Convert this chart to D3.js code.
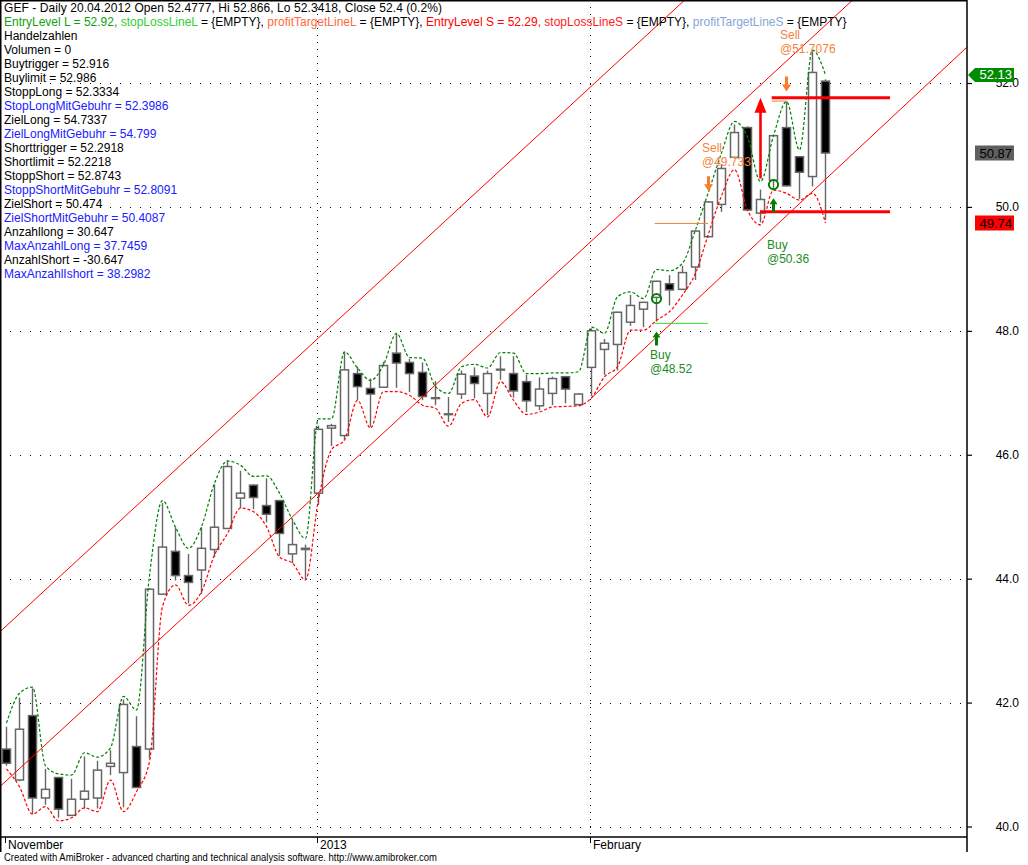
<!DOCTYPE html>
<html>
<head>
<meta charset="utf-8">
<title>GEF - Daily</title>
<script src="https://cdn.jsdelivr.net/npm/d3@7"></script>
<style>
    body { margin: 0; background: #fff; }
    svg { display: block; font-family: "Liberation Sans", Arial, sans-serif; }
</style>
</head>
<body>
<div id="chart"></div>
<script>
// Daily bars (first bar in late November, last bar end of February)
const opens  = [41.25, 40.75, 41.79, 40.46, 40.79, 40.18, 40.44, 40.46, 40.97, 40.87,
                41.29, 41.25, 43.75, 44.44, 44.05, 44.14, 44.47, 44.81, 45.30, 45.51,
                45.18, 45.26, 44.40, 44.47, 45.38, 46.43, 46.31, 47.31, 47.07, 47.09,
                47.64, 47.49, 47.33, 46.92, 46.66, 46.98, 47.27, 46.99, 47.37, 47.31,
                47.18, 46.79, 46.99, 47.26, 46.81, 47.41, 47.70, 47.78, 48.14, 48.35,
                48.54, 48.76, 48.67, 49.03, 49.52, 50.04, 50.80, 51.28, 49.90, 50.43,
                51.28, 50.81, 50.49, 52.03];
const highs  = [41.61, 42.08, 42.23, 40.93, 40.80, 40.77, 41.13, 41.06, 41.23, 42.05,
                41.78, 43.85, 45.22, 44.83, 44.40, 44.83, 45.52, 45.90, 45.74, 45.52,
                45.62, 45.27, 44.94, 44.55, 46.47, 46.50, 47.66, 47.42, 47.23, 47.50,
                47.96, 47.55, 47.49, 47.19, 46.93, 47.36, 47.41, 47.36, 47.59, 47.59,
                47.29, 47.25, 47.26, 47.27, 46.99, 48.04, 47.87, 48.31, 48.58, 48.47,
                48.81, 48.90, 49.05, 49.62, 50.09, 50.69, 51.33, 51.30, 50.28, 51.16,
                51.70, 50.82, 52.53, 52.06];
const lows   = [40.98, 40.73, 40.20, 40.35, 40.14, 40.17, 40.29, 40.29, 40.83, 40.31,
                40.62, 41.10, 43.74, 43.97, 43.60, 43.75, 44.35, 44.80, 45.14, 45.12,
                44.91, 44.37, 44.25, 43.98, 45.19, 46.14, 46.25, 46.88, 46.45, 47.08,
                47.08, 47.01, 46.88, 46.80, 46.53, 46.90, 46.91, 46.64, 47.21, 46.92,
                46.69, 46.72, 46.80, 46.83, 46.80, 46.95, 47.29, 47.36, 48.08, 48.06,
                48.15, 48.41, 48.66, 48.82, 49.51, 49.92, 50.78, 49.93, 49.75, 50.30,
                50.33, 50.13, 50.33, 49.79];
const closes = [41.02, 41.57, 40.46, 40.60, 40.28, 40.44, 40.57, 40.91, 41.02, 41.97,
                40.63, 43.83, 44.51, 44.05, 43.94, 44.49, 44.83, 45.81, 45.38, 45.31,
                45.04, 44.73, 44.55, 44.49, 46.41, 46.47, 47.37, 47.10, 46.98, 47.44,
                47.48, 47.31, 46.94, 46.91, 46.65, 47.30, 47.15, 47.31, 47.38, 47.03,
                46.87, 47.06, 47.23, 47.06, 46.98, 48.00, 47.80, 48.30, 48.41, 48.46,
                48.80, 48.66, 48.94, 49.61, 50.08, 50.62, 51.20, 49.95, 50.12, 51.15,
                50.34, 50.56, 52.17, 50.87];

// Upper (green dashed) and lower (red dashed) bands
const upperBand = [41.67, 42.15, 42.25, 40.98, 40.85, 40.83, 41.19, 41.12, 41.27, 42.10,
                   41.88, 44.05, 45.26, 44.83, 44.49, 44.84, 45.54, 45.90, 45.83, 45.65,
                   45.66, 45.38, 44.95, 44.65, 46.58, 46.58, 47.66, 47.40, 47.20, 47.45,
                   47.96, 47.57, 47.56, 47.10, 46.99, 47.42, 47.46, 47.40, 47.65, 47.64,
                   47.31, 47.31, 47.32, 47.32, 47.34, 48.06, 47.96, 48.55, 48.63, 48.52,
                   48.99, 48.97, 49.09, 49.63, 50.24, 50.87, 51.38, 51.13, 50.41, 51.15,
                   51.70, 50.92, 52.53, 52.13];
const lowerBand = [40.93, 40.64, 40.20, 40.32, 40.09, 40.14, 40.30, 40.24, 40.75, 40.24,
                   40.56, 41.05, 43.55, 43.90, 43.57, 43.79, 44.38, 44.73, 45.14, 45.08,
                   44.84, 44.35, 44.25, 43.98, 45.28, 46.08, 46.24, 46.88, 46.43, 47.02,
                   47.02, 46.96, 46.80, 46.75, 46.46, 46.83, 46.89, 46.61, 47.18, 46.88,
                   46.65, 46.69, 46.77, 46.78, 46.79, 46.92, 47.26, 47.42, 48.01, 48.01,
                   48.17, 48.31, 48.58, 48.93, 49.57, 50.18, 50.60, 49.95, 49.71, 50.27,
                   50.22, 50.11, 50.22, 49.74];

// Trend channel lines (bar index / price at both ends)
const trendStartIdx   = [-1, -1, 45];
const trendStartPrice = [43.04, 40.54, 46.91];
const trendEndIdx     = [75, 75, 75];
const trendEndPrice   = [57.75, 55.25, 52.79];

// Horizontal level segments
const levelStartIdx = [49.9, 49.9, 58.9, 58.9, 58];
const levelEndIdx   = [54, 54, 60.1, 68, 68];
const levelPrice    = [48.12, 49.733, 51.7076, 51.76, 49.92];
const levelColor    = ['#33dd33', '#f5823c', '#f5823c', '#ff0000', '#ff0000'];
const levelWidth    = [1, 1, 1, 3, 3];

// Trade signals
const signalBars       = [50, 54, 59, 60];
const signalTypes      = ['Buy', 'Sell', 'Buy', 'Sell'];
const signalPrices     = ['48.52', '49.733', '50.36', '51.7076'];
const signalLabelPrice = [47.54, 50.89, 49.32, 52.71];
const fillBars   = [50, 59];
const fillPrices = [48.52, 50.36];
const entryArrowBar = 58;
const entryArrowFrom = 50.46;
const entryArrowTo = 51.76;

// Axis ticks
const priceTicks = [40, 42, 44, 46, 48, 50, 52];
const monthTickIdx = [0, 24, 45];
const monthTickLabels = ['November', '2013', 'February'];

// Title / interpretation text
const titleLine = 'GEF - Daily 20.04.2012 Open 52.4777, Hi 52.866, Lo 52.3418, Close 52.4 (0.2%)';
const legendTexts  = ['EntryLevel L = 52.92, ', 'stopLossLineL', ' = {EMPTY}, ', 'profitTargetLineL', ' = {EMPTY}, ',
                      'EntryLevel S = 52.29, ', 'stopLossLineS', ' = {EMPTY}, ', 'profitTargetLineS', ' = {EMPTY}'];
const legendColors = ['#10a010', '#30d030', '#000', '#ff6a3d', '#000',
                      '#ff0000', '#ff1a1a', '#000', '#88a4d8', '#000'];
const infoTexts = ['Handelzahlen', 'Volumen = 0', 'Buytrigger = 52.916', 'Buylimit = 52.986',
                   'StoppLong = 52.3334', 'StopLongMitGebuhr = 52.3986', 'ZielLong = 54.7337',
                   'ZielLongMitGebuhr = 54.799', 'Shorttrigger = 52.2918', 'Shortlimit = 52.2218',
                   'StoppShort = 52.8743', 'StoppShortMitGebuhr = 52.8091', 'ZielShort = 50.474',
                   'ZielShortMitGebuhr = 50.4087', 'Anzahllong = 30.647', 'MaxAnzahlLong = 37.7459',
                   'AnzahlShort = -30.647', 'MaxAnzahlIshort = 38.2982'];
const infoBlue = [false, false, false, false, false, true, false, true, false, false,
                  false, true, false, true, false, true, false, true];
const footerText = 'Created with AmiBroker - advanced charting and technical analysis software. http://www.amibroker.com';

class CandleChart {
    constructor(_config) {
        this.config = {
            parentElement: _config.parentElement,
            containerWidth: 1028,
            containerHeight: 865,
            plotRight: 967,
            plotBottom: 837
        };
        this.initVis();
    }

    initVis() {
        let vis = this;

        vis.svg = vis.config.parentElement.append('svg')
            .attr('width', vis.config.containerWidth)
            .attr('height', vis.config.containerHeight);

        vis.svg.append('rect')
            .attr('width', vis.config.containerWidth)
            .attr('height', vis.config.containerHeight)
            .attr('fill', '#fff');

        // Bar index -> x, price -> y
        vis.xScale = d3.scaleLinear().domain([0, 63]).range([6, 825]);
        vis.yScale = d3.scaleLinear().domain([40, 52]).range([826.5, 83]);

        vis.svg.append('clipPath').attr('id', 'plot-clip')
            .append('rect')
            .attr('x', 0).attr('y', 0)
            .attr('width', vis.config.plotRight)
            .attr('height', vis.config.plotBottom);

        vis.plot = vis.svg.append('g').attr('clip-path', 'url(#plot-clip)');

        vis.bars = opens.map((o, i) => ({ i: i, o: o, h: highs[i], l: lows[i], c: closes[i] }));

        vis.renderVis();
    }

    arrowPath(x, y, dir, headW, headH, shaftW, len) {
        // dir = 1 points up (tip at y, shaft below), dir = -1 points down
        const s = dir;
        return `M${x},${y} L${x + headW / 2},${y + s * headH} L${x + shaftW / 2},${y + s * headH}
                L${x + shaftW / 2},${y + s * len} L${x - shaftW / 2},${y + s * len}
                L${x - shaftW / 2},${y + s * headH} L${x - headW / 2},${y + s * headH} Z`;
    }

    renderVis() {
        let vis = this;
        const x = vis.xScale, y = vis.yScale;
        const right = vis.config.plotRight, bottom = vis.config.plotBottom;

        // Dotted grid
        vis.plot.selectAll('.hgrid')
            .data(priceTicks)
            .join('line')
            .attr('class', 'hgrid')
            .attr('x1', 0).attr('x2', right)
            .attr('y1', d => Math.round(y(d)) + 0.5)
            .attr('y2', d => Math.round(y(d)) + 0.5)
            .attr('stroke', '#000')
            .attr('stroke-dasharray', '1,9');

        vis.plot.selectAll('.vgrid')
            .data(monthTickIdx.slice(1))
            .join('line')
            .attr('class', 'vgrid')
            .attr('x1', d => Math.round(x(d)) - 0.5)
            .attr('x2', d => Math.round(x(d)) - 0.5)
            .attr('y1', 0).attr('y2', bottom)
            .attr('stroke', '#000')
            .attr('stroke-dasharray', '1,6');

        // Candles
        vis.plot.selectAll('.wick')
            .data(vis.bars)
            .join('line')
            .attr('class', 'wick')
            .attr('x1', d => x(d.i) + 0.5)
            .attr('x2', d => x(d.i) + 0.5)
            .attr('y1', d => y(d.h))
            .attr('y2', d => y(d.l))
            .attr('stroke', '#666')
            .attr('stroke-width', 1.4);

        vis.plot.selectAll('.body')
            .data(vis.bars)
            .join('rect')
            .attr('class', 'body')
            .attr('x', d => x(d.i) - 3.5)
            .attr('width', 8)
            .attr('y', d => y(Math.max(d.o, d.c)))
            .attr('height', d => Math.max(0.8, Math.abs(y(d.o) - y(d.c))))
            .attr('fill', d => d.c < d.o ? '#000' : '#fff')
            .attr('stroke', '#666')
            .attr('stroke-width', 1.5);

        // Bands
        const bandLine = d3.line()
            .x((d, i) => x(i) + 0.5)
            .y(d => y(d))
            .curve(d3.curveMonotoneX);

        vis.plot.append('path')
            .datum(upperBand)
            .attr('d', bandLine)
            .attr('fill', 'none')
            .attr('stroke', '#008000')
            .attr('stroke-width', 1.2)
            .attr('stroke-dasharray', '3,2');

        vis.plot.append('path')
            .datum(lowerBand)
            .attr('d', bandLine)
            .attr('fill', 'none')
            .attr('stroke', '#ff0000')
            .attr('stroke-width', 1.2)
            .attr('stroke-dasharray', '3,2');

        // Trend channel
        vis.plot.selectAll('.trend')
            .data(trendStartIdx)
            .join('line')
            .attr('class', 'trend')
            .attr('x1', (d, i) => x(d))
            .attr('y1', (d, i) => y(trendStartPrice[i]))
            .attr('x2', (d, i) => x(trendEndIdx[i]))
            .attr('y2', (d, i) => y(trendEndPrice[i]))
            .attr('stroke', '#ff0000')
            .attr('stroke-width', 1);

        // Levels
        vis.plot.selectAll('.level')
            .data(levelPrice)
            .join('line')
            .attr('class', 'level')
            .attr('x1', (d, i) => x(levelStartIdx[i]))
            .attr('x2', (d, i) => x(levelEndIdx[i]))
            .attr('y1', d => y(d))
            .attr('y2', d => y(d))
            .attr('stroke', (d, i) => levelColor[i])
            .attr('stroke-width', (d, i) => levelWidth[i]);

        // Big red entry arrow
        vis.plot.append('path')
            .attr('d', vis.arrowPath(x(entryArrowBar) + 0.5, y(entryArrowTo), 1, 12, 15, 2.6,
                y(entryArrowFrom) - y(entryArrowTo)))
            .attr('fill', '#ff0000');

        // Buy / sell arrows
        vis.plot.selectAll('.sig-arrow')
            .data(signalBars)
            .join('path')
            .attr('class', 'sig-arrow')
            .attr('d', (d, i) => signalTypes[i] === 'Buy'
                ? vis.arrowPath(x(d) + 0.5, y(lows[d]) + 10, 1, 8, 6, 3, 14)
                : vis.arrowPath(x(d) + 0.5, y(highs[d]) - 10, -1, 9, 7, 3, 15))
            .attr('fill', (d, i) => signalTypes[i] === 'Buy' ? '#008000' : '#ff7a28');

        // Fill circles
        vis.plot.selectAll('.fill-circle')
            .data(fillBars)
            .join('circle')
            .attr('class', 'fill-circle')
            .attr('cx', d => x(d) + 0.5)
            .attr('cy', (d, i) => y(fillPrices[i]))
            .attr('r', 4.6)
            .attr('fill', 'none')
            .attr('stroke', '#008000')
            .attr('stroke-width', 2);

        // Signal labels
        const labels = vis.plot.selectAll('.sig-label')
            .data(signalBars)
            .join('text')
            .attr('class', 'sig-label')
            .attr('x', d => x(d) - 6)
            .attr('y', (d, i) => y(signalLabelPrice[i]))
            .attr('font-size', '12px')
            .attr('fill', (d, i) => signalTypes[i] === 'Buy' ? '#1a8c1a' : '#f5823c');
        labels.append('tspan').text((d, i) => signalTypes[i]);
        labels.append('tspan')
            .attr('x', d => x(d) - 6)
            .attr('dy', 14)
            .text((d, i) => '@' + signalPrices[i]);

        // Frame
        vis.svg.append('path')
            .attr('d', `M0.75,${bottom + 15} V0.75 H${right} V${bottom + 15}`)
            .attr('fill', 'none')
            .attr('stroke', '#000')
            .attr('stroke-width', 1.5);
        vis.svg.append('line')
            .attr('x1', 0).attr('x2', right)
            .attr('y1', bottom).attr('y2', bottom)
            .attr('stroke', '#000')
            .attr('stroke-width', 1.5);

        // Right price axis
        const yAxis = d3.axisRight(y)
            .tickValues(priceTicks)
            .tickFormat(d3.format('.1f'))
            .tickSize(5);

        const axisG = vis.svg.append('g')
            .attr('transform', `translate(${right},0)`)
            .call(yAxis);
        axisG.select('.domain').remove();
        axisG.attr('font-family', '"Liberation Sans", Arial, sans-serif').attr('font-size', 12);
        axisG.selectAll('.tick line').attr('stroke', '#000').attr('stroke-width', 1.2);
        axisG.selectAll('.tick text')
            .attr('x', 52)
            .attr('text-anchor', 'end')
            .attr('fill', '#000');

        // Last value labels on the axis
        const valueLabels = [
            { v: upperBand[63], fill: '#008c00', color: '#fff', pointer: true },
            { v: closes[63], fill: '#5f5f5f', color: '#000', pointer: false },
            { v: lowerBand[63], fill: '#ff0000', color: '#000', pointer: false }
        ];
        const vl = vis.svg.selectAll('.value-label')
            .data(valueLabels)
            .join('g')
            .attr('class', 'value-label')
            .attr('transform', d => `translate(0,${y(d.v)})`);
        vl.append('path')
            .attr('d', d => d.pointer
                ? 'M968,0 L975,-7 L1014,-7 L1014,7 L975,7 Z'
                : 'M975,-7.5 L1014,-7.5 L1014,7.5 L975,7.5 Z')
            .attr('fill', d => d.fill);
        vl.append('text')
            .attr('x', 1012)
            .attr('y', 4.5)
            .attr('text-anchor', 'end')
            .attr('font-size', '13px')
            .attr('fill', d => d.color)
            .text(d => d3.format('.2f')(d.v));

        // Date axis
        const dateG = vis.svg.append('g');
        dateG.selectAll('.month-tick')
            .data(monthTickIdx)
            .join('line')
            .attr('x1', d => Math.max(1, Math.round(x(d)) - 0.5))
            .attr('x2', d => Math.max(1, Math.round(x(d)) - 0.5))
            .attr('y1', bottom).attr('y2', bottom + 6)
            .attr('stroke', '#000');
        dateG.selectAll('.month-label')
            .data(monthTickIdx)
            .join('text')
            .attr('x', d => Math.max(8, x(d) + 2))
            .attr('y', bottom + 12)
            .attr('font-size', '12px')
            .attr('fill', '#000')
            .text((d, i) => monthTickLabels[i]);

        // Title and interpretation lines
        vis.svg.append('text')
            .attr('x', 4).attr('y', 12)
            .attr('font-size', '12px')
            .attr('textLength', 438)
            .attr('lengthAdjust', 'spacing')
            .attr('fill', '#000')
            .text(titleLine);

        const legend = vis.svg.append('text')
            .attr('x', 4).attr('y', 26)
            .attr('font-size', '12px')
            .attr('xml:space', 'preserve');
        legend.selectAll('tspan')
            .data(legendTexts)
            .join('tspan')
            .attr('fill', (d, i) => legendColors[i])
            .text(d => d);

        vis.svg.selectAll('.info')
            .data(infoTexts)
            .join('text')
            .attr('class', 'info')
            .attr('x', 4)
            .attr('y', (d, i) => 40 + i * 14)
            .attr('font-size', '12px')
            .attr('fill', (d, i) => infoBlue[i] ? '#2020ff' : '#000')
            .text(d => d);

        vis.svg.append('text')
            .attr('x', 4).attr('y', 861)
            .attr('font-size', '10px')
            .attr('textLength', 433)
            .attr('lengthAdjust', 'spacingAndGlyphs')
            .attr('fill', '#000')
            .text(footerText);
    }
}

new CandleChart({ parentElement: d3.select('#chart') });
</script>
</body>
</html>
